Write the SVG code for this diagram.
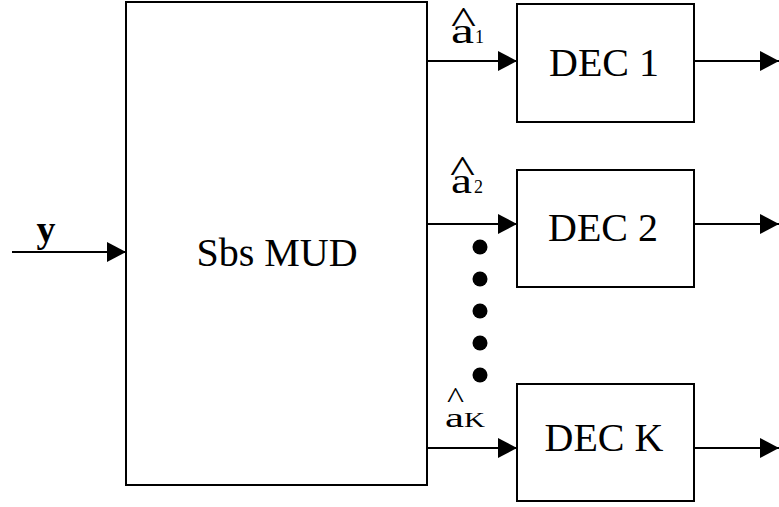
<svg xmlns="http://www.w3.org/2000/svg" width="779" height="507" viewBox="0 0 779 507">
<defs>
<marker id="ah" markerWidth="19" markerHeight="20" refX="19" refY="10" orient="auto" markerUnits="userSpaceOnUse">
<path d="M0,0 L19,10 L0,20 Z" fill="#000"/>
</marker>
<style>
.box{fill:#fff;stroke:#000;stroke-width:2}
.ln{stroke:#000;stroke-width:2;fill:none;marker-end:url(#ah)}
.t{font-family:"Liberation Serif","Times New Roman",serif;font-size:40px;fill:#000}
.a{font-family:"Liberation Serif","Times New Roman",serif;font-size:35px;fill:#000}
.s{font-family:"Liberation Serif","Times New Roman",serif;font-size:18px;fill:#000}
.h{font-family:"Liberation Serif","Times New Roman",serif;font-size:37px;fill:#000}
</style>
</defs>
<rect width="779" height="507" fill="#fff"/>
<g id="connectors">
<line class="ln" x1="12" y1="252" x2="126" y2="252"/>
<line class="ln" x1="427" y1="61" x2="517" y2="61"/>
<line class="ln" x1="427" y1="224" x2="517" y2="224"/>
<line class="ln" x1="427" y1="448" x2="517" y2="448"/>
<line class="ln" x1="694" y1="61" x2="779" y2="61"/>
<line class="ln" x1="694" y1="224" x2="779" y2="224"/>
<line class="ln" x1="694" y1="448" x2="779" y2="448"/>
</g>
<g id="mud">
<rect class="box" x="126" y="2" width="301" height="483"/>
<text class="t" x="277" y="266" text-anchor="middle">Sbs MUD</text>
</g>
<g id="dec1">
<rect class="box" x="517" y="4" width="177" height="118"/>
<text class="t" x="604" y="76" text-anchor="middle">DEC 1</text>
</g>
<g id="dec2">
<rect class="box" x="517" y="170" width="177" height="117"/>
<text class="t" x="603" y="241" text-anchor="middle">DEC 2</text>
</g>
<g id="deck">
<rect class="box" x="517" y="384" width="177" height="117"/>
<text class="t" x="604" y="451" text-anchor="middle">DEC K</text>
</g>
<g id="input-label">
<text x="46" y="242" text-anchor="middle" style="font-family:'Liberation Serif','Times New Roman',serif;font-size:38px;font-weight:bold">y</text>
</g>
<g id="label-a1">
<text class="h" x="451" y="33" textLength="25" lengthAdjust="spacingAndGlyphs">^</text>
<text class="a" x="451" y="43" textLength="23" lengthAdjust="spacingAndGlyphs">a</text>
<text class="s" x="475" y="43">1</text>
</g>
<g id="label-a2">
<text class="h" x="450" y="182" textLength="25" lengthAdjust="spacingAndGlyphs">^</text>
<text class="a" x="451" y="193" textLength="21" lengthAdjust="spacingAndGlyphs">a</text>
<text class="s" x="474" y="193">2</text>
</g>
<g id="label-ak">
<text x="447" y="408" textLength="17" lengthAdjust="spacingAndGlyphs" style="font-family:'Liberation Serif','Times New Roman',serif;font-size:30px">^</text>
<text x="445" y="427" textLength="19" lengthAdjust="spacingAndGlyphs" style="font-family:'Liberation Serif','Times New Roman',serif;font-size:28px">a</text>
<text x="464" y="427" textLength="21" lengthAdjust="spacingAndGlyphs" style="font-family:'Liberation Serif','Times New Roman',serif;font-size:20px">K</text>
</g>
<g id="dots" fill="#000">
<circle cx="480" cy="247" r="7.5"/>
<circle cx="480" cy="279" r="7.5"/>
<circle cx="480" cy="311" r="7.5"/>
<circle cx="480" cy="343" r="7.5"/>
<circle cx="480" cy="375" r="7.5"/>
</g>
</svg>
